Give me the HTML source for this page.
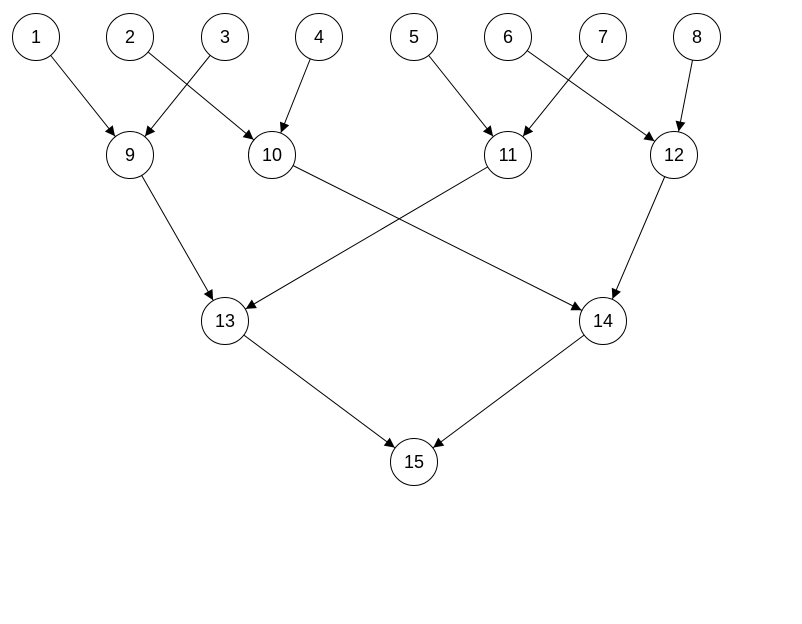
<!DOCTYPE html>
<html><head><style>body{margin:0;background:#fff}svg{display:block}</style></head><body>
<svg width="802" height="624" xmlns="http://www.w3.org/2000/svg">
<defs><marker id="a" markerUnits="userSpaceOnUse" markerWidth="40" markerHeight="12" viewBox="0 -6 40 12" refX="40" refY="0" orient="auto"><path d="M6,-5 L16,0 L6,5 Z" fill="#000"/></marker></defs>
<g stroke="#000" stroke-width="1" marker-end="url(#a)">
<line x1="36" y1="37" x2="130" y2="155"/>
<line x1="225" y1="37" x2="130" y2="155"/>
<line x1="130" y1="37" x2="272" y2="155"/>
<line x1="319" y1="37" x2="272" y2="155"/>
<line x1="414" y1="37" x2="508" y2="155"/>
<line x1="603" y1="37" x2="508" y2="155"/>
<line x1="508" y1="37" x2="674" y2="155"/>
<line x1="697" y1="37" x2="674" y2="155"/>
<line x1="130" y1="155" x2="225" y2="321"/>
<line x1="508" y1="155" x2="225" y2="321"/>
<line x1="272" y1="155" x2="603" y2="321"/>
<line x1="674" y1="155" x2="603" y2="321"/>
<line x1="225" y1="321" x2="414" y2="462"/>
<line x1="603" y1="321" x2="414" y2="462"/>
</g>
<g fill="#fff" stroke="#000">
<circle cx="36" cy="37" r="23.5"/><circle cx="130" cy="37" r="23.5"/><circle cx="225" cy="37" r="23.5"/><circle cx="319" cy="37" r="23.5"/>
<circle cx="414" cy="37" r="23.5"/><circle cx="508" cy="37" r="23.5"/><circle cx="603" cy="37" r="23.5"/><circle cx="697" cy="37" r="23.5"/>
<circle cx="130" cy="155" r="23.5"/><circle cx="272" cy="155" r="23.5"/><circle cx="508" cy="155" r="23.5"/><circle cx="674" cy="155" r="23.5"/>
<circle cx="225" cy="321" r="23.5"/><circle cx="603" cy="321" r="23.5"/><circle cx="414" cy="462" r="23.5"/>
</g>
<g font-family="Liberation Sans, sans-serif" font-size="18" text-anchor="middle" fill="#000">
<text x="36" y="43">1</text><text x="130" y="43">2</text><text x="225" y="43">3</text><text x="319" y="43">4</text>
<text x="414" y="43">5</text><text x="508" y="43">6</text><text x="603" y="43">7</text><text x="697" y="43">8</text>
<text x="130" y="161">9</text><text x="272" y="161">10</text><text x="508" y="161">11</text><text x="674" y="161">12</text>
<text x="225" y="327">13</text><text x="603" y="327">14</text><text x="414" y="468">15</text>
</g>
</svg>
</body></html>
